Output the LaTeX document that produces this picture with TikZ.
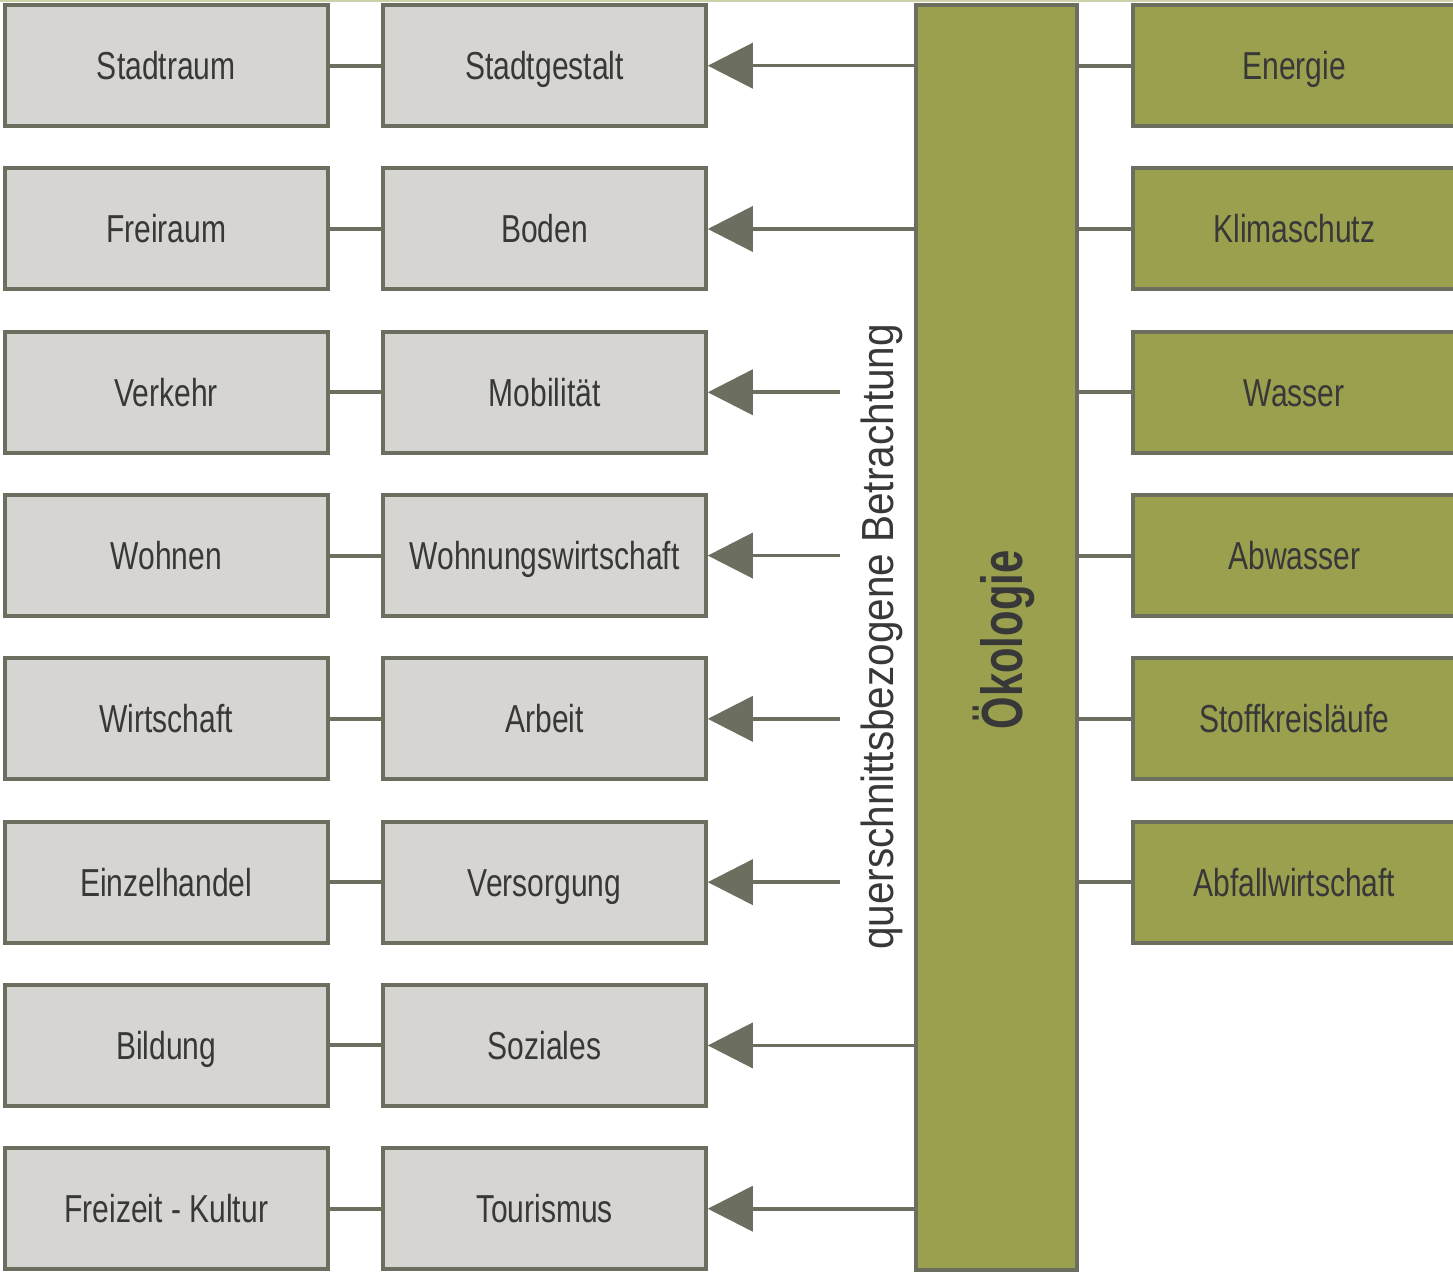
\documentclass[tikz,border=0pt]{standalone}
\usepackage{fontspec}
\usetikzlibrary{arrows.meta}
\newfontfamily\condfont[FakeStretch=0.77]{Liberation Sans}
\newfontfamily\boldcond[FakeStretch=0.72]{Liberation Sans Bold}
\newfontfamily\vfont[FakeStretch=0.9]{Liberation Sans}
\definecolor{boxgray}{HTML}{D6D5D1}
\definecolor{boxgreen}{HTML}{9AA04D}
\definecolor{edge}{HTML}{6C6F5F}
\definecolor{txt}{HTML}{383838}
\definecolor{topline}{HTML}{CDD0A8}
\begin{document}
\begin{tikzpicture}[x=0.5pt,y=-0.5pt,
  topic/.style={draw=edge, line width=2pt, minimum width=161.25pt, minimum height=60.5pt,
    inner sep=0pt, text=txt, font=\condfont\fontsize{19.5}{22}\selectfont,
    text height=14pt, text depth=0pt},
  graybox/.style={topic, fill=boxgray},
  greenbox/.style={topic, fill=boxgreen},
  link/.style={draw=edge, line width=2pt},
  flow/.style={draw=edge, line width=1.8pt, -{Triangle[length=22.5pt,width=22.5pt]}}
]
\useasboundingbox (0,0) rectangle (1453,1272);
\fill[topline] (0,0) rectangle (1453,2.5);

% central bar
\node[draw=edge, fill=boxgreen, line width=2pt, minimum width=80.5pt,
      minimum height=632.65pt, inner sep=0pt] (oek) at (996.5,637.35) {};
\node[rotate=90, anchor=base, text=txt, font=\boldcond\fontsize{29}{30}\selectfont]
      (oektext) at (1022,640) {Ökologie};
\node[rotate=90, anchor=base, text=txt, font=\vfont\fontsize{22.5}{24}\selectfont]
      (quer) at (893,637) {querschnittsbezogene Betrachtung};

% left and middle columns
\foreach \i/\a/\b in {1/Stadtraum/Stadtgestalt, 2/Freiraum/Boden, 3/Verkehr/Mobilität,
    4/Wohnen/Wohnungswirtschaft, 5/Wirtschaft/Arbeit, 6/Einzelhandel/Versorgung,
    7/Bildung/Soziales, 8/Freizeit - Kultur/Tourismus}{
  \pgfmathsetmacro\yy{65.7+163.29*(\i-1)}
  \node[graybox] (l\i) at (166.25,\yy) {\a};
  \node[graybox] (m\i) at (544.5,\yy) {\b};
  \draw[link] (l\i.east) -- (m\i.west);
}

% right column
\foreach \i/\c in {1/Energie, 2/Klimaschutz, 3/Wasser, 4/Abwasser, 5/Stoffkreisläufe,
    6/Abfallwirtschaft}{
  \pgfmathsetmacro\yy{65.7+163.29*(\i-1)}
  \node[greenbox] (r\i) at (1294.25,\yy) {\c};
  \draw[link] (oek.east |- r\i.west) -- (r\i.west);
}

% arrows from bar
\foreach \i in {1,2,7,8}{
  \draw[flow] (oek.west |- m\i.east) -- (m\i.east);
}
\foreach \i in {3,4,5,6}{
  \pgfmathsetmacro\yy{65.7+163.29*(\i-1)}
  \coordinate (c\i) at (840,\yy);
  \draw[flow] (c\i) -- (m\i.east);
}
\end{tikzpicture}
\end{document}
